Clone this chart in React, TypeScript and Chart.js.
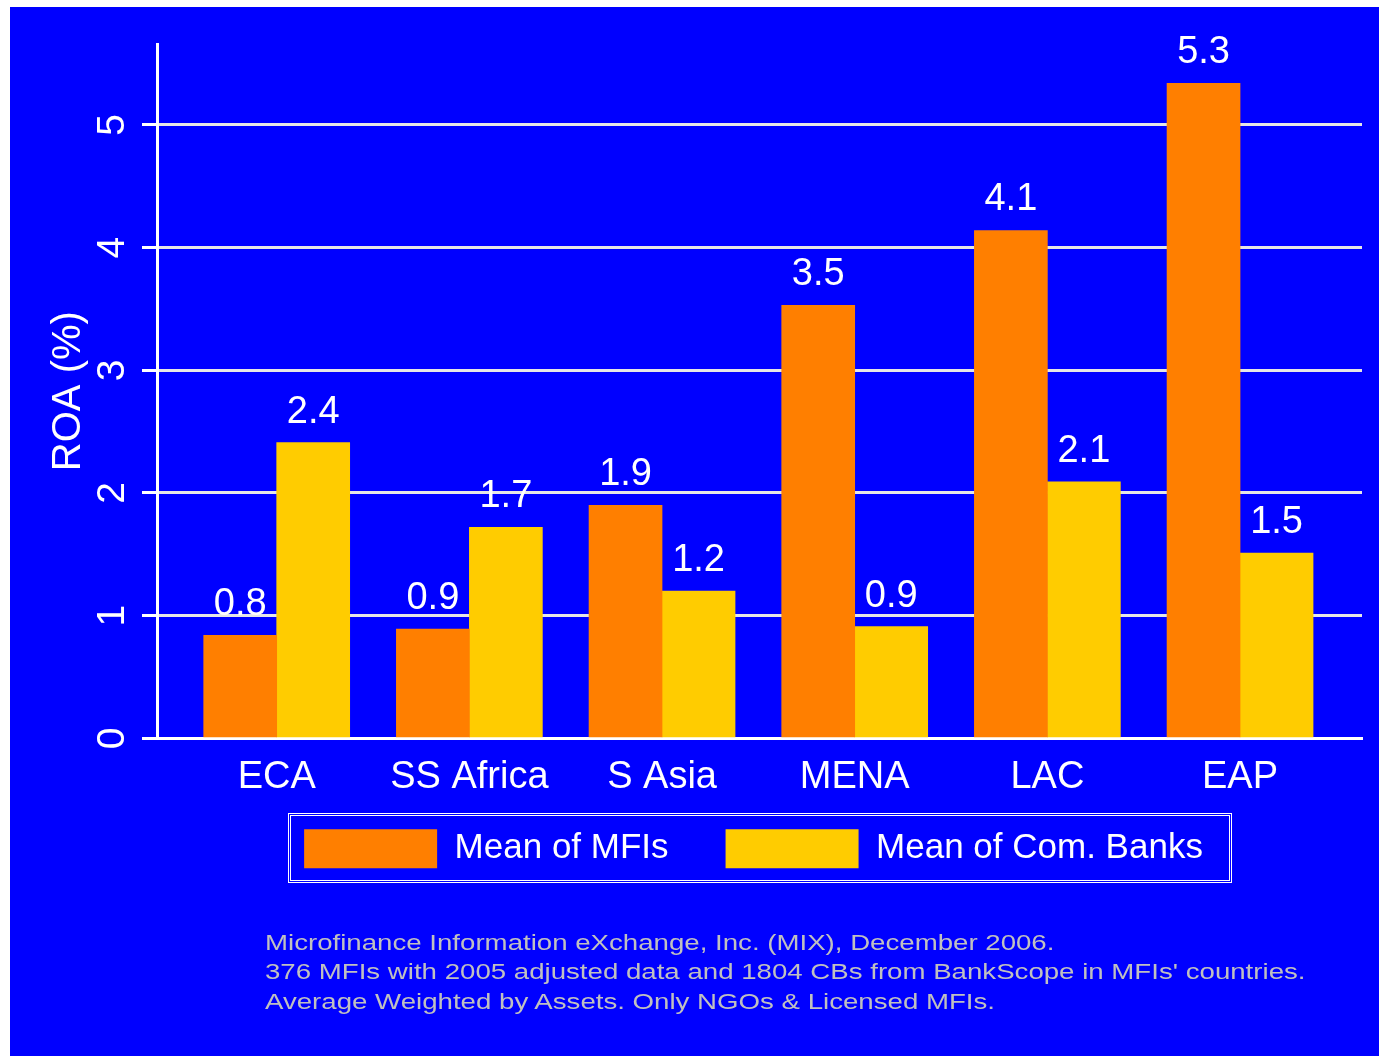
import React, { useEffect, useRef } from "react";
import { Chart, registerables } from "chart.js";

Chart.register(...registerables);

const categories = ["ECA", "SS Africa", "S Asia", "MENA", "LAC", "EAP"];
const mfiValues = [0.84, 0.89, 1.9, 3.53, 4.14, 5.34];
const bankValues = [2.41, 1.72, 1.2, 0.91, 2.09, 1.51];
const seriesNames = ["Mean of MFIs", "Mean of Com. Banks"];
const yTickValues = [0, 1, 2, 3, 4, 5];
const yTitle = "ROA (%)";
const notes = [
  "Microfinance Information eXchange, Inc. (MIX), December 2006.",
  "376 MFIs with 2005 adjusted data and 1804 CBs from BankScope in MFIs' countries.",
  "Average Weighted by Assets. Only NGOs & Licensed MFIs.",
];

const FONT = "'Liberation Sans', Arial, Helvetica, sans-serif";
const BLUE = "#0000FF";
const ORANGE = "#FF7F00";
const YELLOW = "#FFCC00";
const LEGEND_PAD = 57;

const valueLabels = {
  id: "valueLabels",
  afterDatasetsDraw(chart: any) {
    const ctx = chart.ctx;
    ctx.save();
    ctx.font = `38px ${FONT}`;
    ctx.fillStyle = "#FFFFFF";
    ctx.textAlign = "center";
    ctx.textBaseline = "alphabetic";
    chart.data.datasets.forEach((ds: any, di: number) => {
      const meta = chart.getDatasetMeta(di);
      meta.data.forEach((bar: any, i: number) => {
        const v = ds.data[i].y as number;
        ctx.fillText(v.toFixed(1), bar.x, bar.y - 20);
      });
    });
    ctx.restore();
  },
};

const legendFrame = {
  id: "legendFrame",
  afterLayout(chart: any) {
    const lg = chart.legend;
    if (!lg) return;
    lg.left -= 6;
    lg.right -= 6;
    lg.top -= 36;
    lg.bottom -= 36;
  },
  afterDraw(chart: any) {
    const lg = chart.legend;
    if (!lg || !lg.lineWidths) return;
    const ctx = chart.ctx;
    const lw = lg.lineWidths[0];
    const startX = (lg.left + LEGEND_PAD + lg.right - lw) / 2;
    const endX = startX + lw - LEGEND_PAD;
    const top = lg.top + LEGEND_PAD;
    const x0 = startX - 16;
    const y0 = top - 16;
    const w = endX - startX + 16 + 28;
    const h = 39 + 16 + 14;
    ctx.save();
    ctx.strokeStyle = "#FFFFFF";
    ctx.lineWidth = 1;
    ctx.strokeRect(Math.round(x0) + 0.5, Math.round(y0) + 0.5, Math.round(w), Math.round(h));
    ctx.strokeRect(Math.round(x0) + 2.5, Math.round(y0) + 2.5, Math.round(w) - 4, Math.round(h) - 4);
    ctx.restore();
  },
};

export default function App() {
  const canvasRef = useRef<HTMLCanvasElement | null>(null);

  useEffect(() => {
    if (!canvasRef.current) return;
    Chart.defaults.font.family = FONT;
    const chart = new Chart(canvasRef.current, {
      type: "bar",
      data: {
        datasets: [
          {
            label: seriesNames[0],
            data: mfiValues.map((v, i) => ({ x: i, y: v })),
            backgroundColor: ORANGE,
            borderWidth: 0,
          },
          {
            label: seriesNames[1],
            data: bankValues.map((v, i) => ({ x: i, y: v })),
            backgroundColor: YELLOW,
            borderWidth: 0,
          },
        ],
      },
      options: {
        responsive: false,
        animation: false,
        devicePixelRatio: 1,
        events: [],
        barThickness: 73,
        layout: { padding: { top: 37, right: 17, bottom: 141.7, left: 0 } },
        scales: {
          x: {
            type: "linear",
            min: -0.6213,
            max: 5.633,
            bounds: "data",
            offset: false,
            grid: { display: false, drawTicks: false },
            border: { display: true, color: "#FFFFFF", width: 3 },
            afterBuildTicks: (s: any) => {
              s.ticks = categories.map((_, i) => ({ value: i }));
            },
            afterFit: (s: any) => {
              s.height = 70;
              s.paddingLeft = 0;
              s.paddingRight = 0;
            },
            ticks: {
              autoSkip: false,
              maxRotation: 0,
              minRotation: 0,
              padding: 16,
              color: "#FFFFFF",
              font: { size: 38, family: FONT },
              callback: (v: any) => categories[Math.round(Number(v))] ?? "",
            },
          },
          y: {
            type: "linear",
            min: 0,
            max: 5.66,
            bounds: "data",
            afterBuildTicks: (s: any) => {
              s.ticks = yTickValues.map((v) => ({ value: v }));
            },
            afterFit: (s: any) => {
              s.width = 147;
              s.paddingTop = 0;
              s.paddingBottom = 0;
            },
            grid: {
              color: "#E6E6E6",
              lineWidth: 3,
              tickLength: 15,
              tickColor: "#FFFFFF",
              tickWidth: 3,
              drawTicks: true,
            },
            border: { display: true, color: "#FFFFFF", width: 3 },
            ticks: {
              minRotation: 90,
              maxRotation: 90,
              crossAlign: "center",
              padding: 18,
              color: "#FFFFFF",
              font: { size: 39, family: FONT },
              callback: (v: any) => String(v),
            },
            title: {
              display: true,
              text: yTitle,
              color: "#FFFFFF",
              font: { size: 40, family: FONT },
              padding: { top: 35, bottom: 0 },
            },
          },
        },
        plugins: {
          legend: {
            display: true,
            position: "bottom",
            fullSize: false,
            labels: {
              boxWidth: 133,
              boxHeight: 39,
              padding: LEGEND_PAD,
              color: "#FFFFFF",
              font: { size: 35, family: FONT },
            },
          },
          tooltip: { enabled: false },
          title: { display: false },
        },
      } as any,
      plugins: [valueLabels, legendFrame],
    });
    return () => chart.destroy();
  }, []);

  return (
    <div
      style={{
        position: "absolute",
        left: 10,
        top: 7,
        width: 1369,
        height: 1049,
        background: BLUE,
        overflow: "hidden",
      }}
    >
      <canvas ref={canvasRef} width={1369} height={1049} style={{ display: "block" }} />
      <div
        style={{
          position: "absolute",
          left: 255,
          top: 921,
          color: "#C0C0C0",
          fontFamily: FONT,
          fontSize: 22,
          lineHeight: "29.4px",
          whiteSpace: "nowrap",
          transformOrigin: "left top",
          transform: "scaleX(1.256)",
        }}
      >
        {notes.map((n, i) => (
          <div key={i}>{n}</div>
        ))}
      </div>
    </div>
  );
}
